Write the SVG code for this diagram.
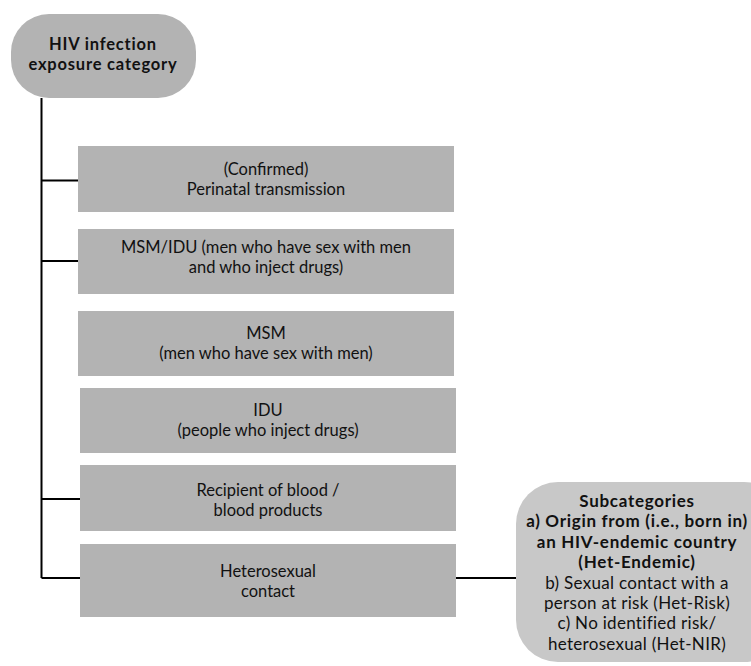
<svg xmlns="http://www.w3.org/2000/svg" width="751" height="666" viewBox="0 0 751 666">
<style>
.box{fill:#b3b3b3}
.sub{fill:#c8c8c8}
.t{font-family:Lato,"Open Sans","Liberation Sans",sans-serif;font-size:16.5px;fill:#111;text-anchor:middle}
.b{font-weight:bold}
.r{letter-spacing:0.8px}
.s{font-size:17px;letter-spacing:0.3px}
.sb{letter-spacing:0.7px}
.ln{stroke:#000;stroke-width:2;fill:none}
</style>
<rect width="751" height="666" fill="#fff"/>
<g id="connectors">
<path class="ln" d="M41.5 98 V578"/>
<path class="ln" d="M41.5 180.5 H78"/>
<path class="ln" d="M41.5 261 H78"/>
<path class="ln" d="M41.5 499 H80"/>
<path class="ln" d="M41.5 578 H80"/>
<path class="ln" d="M456 578 H517"/>
</g>
<g id="root">
<rect class="box" x="11" y="14" width="185" height="84" rx="38"/>
<text class="t b r" x="103" y="50">HIV infection</text>
<text class="t b r" x="103" y="70">exposure category</text>
</g>
<g id="perinatal">
<rect class="box" x="78" y="146" width="376" height="66"/>
<text class="t" x="266" y="175">(Confirmed)</text>
<text class="t" x="266" y="195">Perinatal transmission</text>
</g>
<g id="msmidu">
<rect class="box" x="78" y="229" width="376" height="65"/>
<text class="t" x="266" y="253">MSM/IDU (men who have sex with men</text>
<text class="t" x="266" y="273">and who inject drugs)</text>
</g>
<g id="msm">
<rect class="box" x="78" y="311" width="376" height="65"/>
<text class="t" x="266" y="339">MSM</text>
<text class="t" x="266" y="359">(men who have sex with men)</text>
</g>
<g id="idu">
<rect class="box" x="80" y="388" width="376" height="65"/>
<text class="t" x="268" y="416">IDU</text>
<text class="t" x="268" y="436">(people who inject drugs)</text>
</g>
<g id="blood">
<rect class="box" x="80" y="465" width="376" height="66"/>
<text class="t" x="268" y="496">Recipient of blood /</text>
<text class="t" x="268" y="516">blood products</text>
</g>
<g id="hetero">
<rect class="box" x="80" y="544" width="376" height="73"/>
<text class="t" x="268" y="577">Heterosexual</text>
<text class="t" x="268" y="597">contact</text>
</g>
<g id="subcategories">
<rect class="sub" x="516" y="482" width="270" height="180" rx="42"/>
<text class="t s b sb" x="637" y="507">Subcategories</text>
<text class="t s b sb" x="637" y="527.4">a) Origin from (i.e., born in)</text>
<text class="t s b sb" x="637" y="547.8">an HIV-endemic country</text>
<text class="t s b sb" x="637" y="568.2">(Het-Endemic)</text>
<text class="t s" x="637" y="588.6">b)  Sexual contact with a</text>
<text class="t s" x="637" y="609">person at risk (Het-Risk)</text>
<text class="t s" x="637" y="629.4">c)  No identified risk/</text>
<text class="t s" x="637" y="649.8">heterosexual (Het-NIR)</text>
</g>
</svg>
